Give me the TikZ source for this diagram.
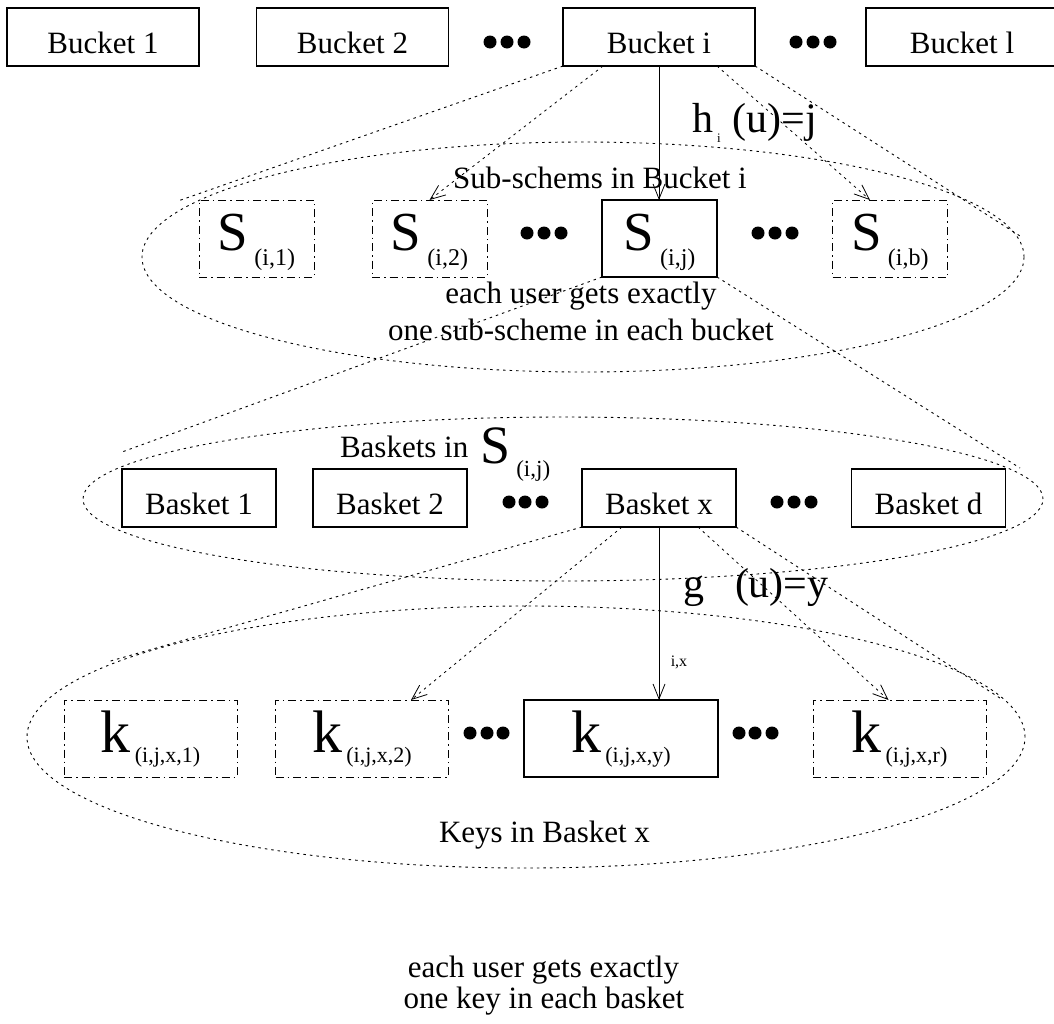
\documentclass[tikz,border=0pt]{standalone}
\usepackage{fontspec}
\setmainfont{Liberation Serif}
\usetikzlibrary{arrows.meta,calc}
\newcommand{\fsz}[1]{\fontsize{#1}{#1}\selectfont}
\begin{document}
\begin{tikzpicture}[x=1pt,y=-1pt,
  every node/.style={inner sep=0pt, outer sep=0pt},
  boxbase/.style={rectangle, text height=45pt, text depth=13pt, font=\fsz{31}},
  bucketbox/.style={boxbase, draw, line width=1.2pt, minimum width=192pt},
  basketbox/.style={boxbase, draw, line width=1.2pt, minimum width=154pt},
  dashdot/.style={draw, line width=0.9pt, dash pattern=on 8pt off 4pt on 1.5pt off 4pt},
  subbox/.style={dashdot, minimum width=115pt, text height=50pt, text depth=27pt},
  subsel/.style={draw, line width=2.6pt, minimum width=115pt, text height=50pt, text depth=27pt},
  keybox/.style={dashdot, minimum width=173pt, text height=52pt, text depth=25pt},
  keysel/.style={draw, line width=2.6pt, minimum width=194pt, text height=52pt, text depth=25pt},
  dotline/.style={line width=0.9pt, dash pattern=on 2.5pt off 4pt},
  arr/.style={-{Straight Barb[length=15pt,width=12pt,line width=0.8pt]}, line width=0.8pt},
  lbl/.style={font=\fsz{31}, anchor=base},
  dotsym/.style={fill=black, circle, minimum size=13pt},
]
\useasboundingbox (0,0) rectangle (1054,1023);

% ---------- top row: buckets ----------
\node[bucketbox] (b1) at (103,37) {Bucket 1};
\node[bucketbox] (b2) at (352.5,37) {Bucket 2};
\node[bucketbox] (bi) at (659,37) {Bucket i};
\node[bucketbox] (bl) at (962,37) {Bucket l};
\foreach \x/\n in {490/a,507/b,524/c} \node[dotsym] (d1\n) at (\x,42) {};
\foreach \x/\n in {796/a,813/b,830/c} \node[dotsym] (d2\n) at (\x,42) {};

% ---------- sub-schemes ----------
\draw[dotline] (583,257) ellipse [x radius=441pt, y radius=115pt];
\node[subbox] (s1) at (256.5,238.5) {{\fsz{55}S}\hspace{6pt}\raisebox{-15pt}{\fsz{24}(i,1)}};
\node[subbox] (s2) at (429.5,238.5) {{\fsz{55}S}\hspace{6pt}\raisebox{-15pt}{\fsz{24}(i,2)}};
\node[subsel] (sj) at (659.5,238.5) {{\fsz{55}S}\hspace{6pt}\raisebox{-15pt}{\fsz{24}(i,j)}};
\node[subbox] (sb) at (890,238.5) {{\fsz{55}S}\hspace{6pt}\raisebox{-15pt}{\fsz{24}(i,b)}};
\foreach \x/\n in {527/a,544/b,561/c} \node[dotsym] (d3\n) at (\x,233) {};
\foreach \x/\n in {758/a,775/b,792/c} \node[dotsym] (d4\n) at (\x,233) {};

\node[lbl] (subt) at (600,188) {Sub-schems in Bucket i};
\node[anchor=base west] (hl) at (692,132) {\fsz{42}h\hspace{4pt}\raisebox{-10pt}{\fsz{13}i}\hspace{12pt}(u)=j};
\node[lbl] (u1) at (581,303) {each user gets exactly};
\node[lbl] (u2) at (581,340) {one sub-scheme in each bucket};

\coordinate (e1l) at (178,201);
\coordinate (e1r) at (1020,236);
\draw[dotline] (bi.south west) -- (e1l);
\draw[dotline] (bi.south east) -- (e1r);
\draw[arr, dash pattern=on 2.5pt off 4pt] ([xshift=-56pt]bi.south) -- (s2.north);
\draw[arr] (bi.south) -- (bi.south |- sj.north);
\draw[arr, dash pattern=on 2.5pt off 4pt] ([xshift=58pt]bi.south) -- ([xshift=-20pt]sb.north);

% ---------- baskets ----------
\draw[dotline] (563,499) ellipse [x radius=480pt, y radius=82pt];
\node[basketbox] (k1) at (199,498) {Basket 1};
\node[basketbox] (k2) at (390,498) {Basket 2};
\node[basketbox] (kx) at (659,498) {Basket x};
\node[basketbox] (kd) at (928.5,498) {Basket d};
\foreach \x/\n in {509/a,525/b,542/c} \node[dotsym] (d5\n) at (\x,502) {};
\foreach \x/\n in {777/a,794/b,811/c} \node[dotsym] (d6\n) at (\x,502) {};
\node[anchor=base west] (bskt) at (340,457) {\fsz{31}Baskets in\hspace{12pt}\raisebox{-6pt}{\fsz{54}S}\hspace{6pt}\raisebox{-19pt}{\fsz{23}(i,j)}};

\coordinate (e2l) at (122,452);
\coordinate (e2r) at (1020,468);
\draw[dotline] (sj.south west) -- (e2l);
\draw[dotline] (sj.south east) -- (e2r);

% ---------- keys ----------
\draw[dotline] (526,737) ellipse [x radius=499pt, y radius=131pt];
\node[keybox] (q1) at (150.5,738.5) {{\fsz{60}k}\hspace{4pt}\raisebox{-10pt}{\fsz{22}(i,j,x,1)}};
\node[keybox] (q2) at (362,738.5) {{\fsz{60}k}\hspace{4pt}\raisebox{-10pt}{\fsz{22}(i,j,x,2)}};
\node[keysel] (qy) at (621,738.5) {{\fsz{60}k}\hspace{4pt}\raisebox{-10pt}{\fsz{22}(i,j,x,y)}};
\node[keybox] (qr) at (899.5,738.5) {{\fsz{60}k}\hspace{4pt}\raisebox{-10pt}{\fsz{22}(i,j,x,r)}};
\foreach \x/\n in {470/a,487/b,503/c} \node[dotsym] (d7\n) at (\x,733) {};
\foreach \x/\n in {739/a,755/b,772/c} \node[dotsym] (d8\n) at (\x,733) {};

\node[anchor=base west] (gl) at (683,597) {\fsz{42}g\hspace{31pt}(u)=y};
\node (gsub) at (679,662) {\fsz{16}i,x};

\coordinate (e3l) at (107,662);
\coordinate (e3r) at (1003,700);
\draw[dotline] (kx.south west) -- (e3l);
\draw[dotline] (kx.south east) -- (e3r);
\draw[arr, dash pattern=on 2.5pt off 4pt] ([xshift=-37pt]kx.south) -- ([xshift=49pt]q2.north);
\draw[arr] (kx.south) -- (kx.south |- qy.north);
\draw[arr, dash pattern=on 2.5pt off 4pt] ([xshift=39pt]kx.south) -- ([xshift=-11pt]qr.north);

\node[lbl] (keyst) at (544.5,842) {Keys in Basket x};
\node[lbl] (f1) at (543.5,977) {each user gets exactly};
\node[lbl] (f2) at (544,1008) {one key in each basket};
\end{tikzpicture}
\end{document}
